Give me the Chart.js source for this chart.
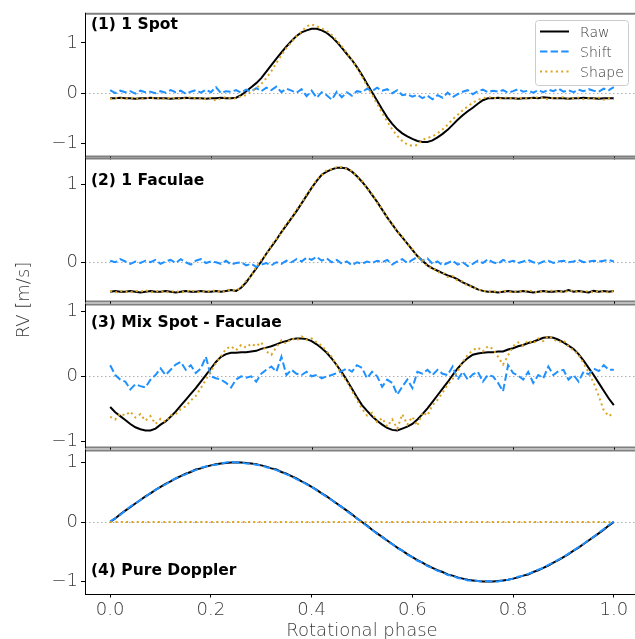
<!DOCTYPE html>
<html>
<head>
<meta charset="utf-8">
<script src="https://cdn.jsdelivr.net/npm/chart.js@4.4.0/dist/chart.umd.min.js"></script>
<style>
  html, body { margin: 0; padding: 0; width: 635px; height: 639px; overflow: hidden; background: #fff; }
  canvas { position: absolute; left: 0; top: 0; }
</style>
</head>
<body>
<canvas id="spotChart" width="640" height="639"></canvas>
<canvas id="faculaeChart" width="640" height="639"></canvas>
<canvas id="mixChart" width="640" height="639"></canvas>
<canvas id="dopplerChart" width="640" height="639"></canvas>
<script>
// rotational phase of every sample
var phase = [
  0.00,0.01,0.02,0.03,0.04,0.05,0.06,0.07,0.08,0.09,
  0.10,0.11,0.12,0.13,0.14,0.15,0.16,0.17,0.18,0.19,
  0.20,0.21,0.22,0.23,0.24,0.25,0.26,0.27,0.28,0.29,
  0.30,0.31,0.32,0.33,0.34,0.35,0.36,0.37,0.38,0.39,
  0.40,0.41,0.42,0.43,0.44,0.45,0.46,0.47,0.48,0.49,
  0.50,0.51,0.52,0.53,0.54,0.55,0.56,0.57,0.58,0.59,
  0.60,0.61,0.62,0.63,0.64,0.65,0.66,0.67,0.68,0.69,
  0.70,0.71,0.72,0.73,0.74,0.75,0.76,0.77,0.78,0.79,
  0.80,0.81,0.82,0.83,0.84,0.85,0.86,0.87,0.88,0.89,
  0.90,0.91,0.92,0.93,0.94,0.95,0.96,0.97,0.98,0.99,1.00
];
var xTicks = [0.0, 0.2, 0.4, 0.6, 0.8, 1.0];
var seriesNames = ['Raw', 'Shift', 'Shape'];

// (1) 1 Spot
var spotRaw = [
  -0.10,-0.10,-0.09,-0.10,-0.10,-0.11,-0.10,-0.10,-0.09,-0.10,
  -0.10,-0.10,-0.11,-0.10,-0.10,-0.09,-0.10,-0.10,-0.10,-0.11,
  -0.10,-0.10,-0.09,-0.10,-0.10,-0.09,-0.04,0.04,0.12,0.20,
  0.30,0.43,0.56,0.69,0.81,0.93,1.04,1.14,1.21,1.25,
  1.28,1.28,1.25,1.20,1.12,1.02,0.90,0.78,0.66,0.52,
  0.36,0.19,0.02,-0.15,-0.32,-0.48,-0.61,-0.72,-0.80,-0.86,
  -0.91,-0.95,-0.97,-0.97,-0.94,-0.88,-0.81,-0.73,-0.63,-0.53,
  -0.44,-0.36,-0.29,-0.21,-0.14,-0.10,-0.10,-0.09,-0.10,-0.10,
  -0.10,-0.11,-0.10,-0.10,-0.09,-0.10,-0.08,-0.09,-0.10,-0.10,
  -0.10,-0.11,-0.10,-0.10,-0.09,-0.10,-0.10,-0.11,-0.10,-0.10,-0.10
];
var spotShift = [
  0.06,0.00,0.05,0.02,0.04,-0.01,0.05,0.02,0.03,0.00,
  0.04,0.01,0.06,0.02,0.05,-0.01,0.03,0.06,0.01,0.07,
  0.02,0.12,0.00,0.04,0.03,0.06,0.01,0.07,0.03,0.10,
  0.04,0.11,0.06,0.13,0.02,0.09,0.05,0.01,0.08,-0.06,
  0.05,-0.09,0.02,-0.04,-0.13,0.03,-0.08,0.02,-0.05,0.04,
  0.02,0.09,0.04,0.11,0.05,0.08,0.00,0.06,-0.04,-0.02,
  -0.07,-0.03,-0.10,-0.05,-0.12,-0.04,-0.09,0.01,-0.08,-0.02,
  0.03,0.06,-0.02,0.04,0.07,0.02,0.05,0.03,0.06,0.01,
  0.04,0.08,0.03,0.05,0.01,0.06,0.02,0.07,0.04,0.09,
  0.03,0.06,0.02,0.07,0.04,0.08,0.05,0.03,0.09,0.06,0.12
];
var spotShape = [
  -0.12,-0.09,-0.10,-0.11,-0.09,-0.10,-0.12,-0.10,-0.09,-0.11,
  -0.10,-0.12,-0.09,-0.10,-0.11,-0.10,-0.08,-0.11,-0.10,-0.12,
  -0.09,-0.15,-0.10,-0.08,-0.11,-0.10,-0.06,-0.04,0.03,0.10,
  0.18,0.30,0.44,0.60,0.76,0.90,1.02,1.13,1.23,1.33,
  1.37,1.33,1.29,1.24,1.16,1.05,0.93,0.80,0.66,0.50,
  0.33,0.15,-0.03,-0.21,-0.39,-0.56,-0.72,-0.85,-0.95,-1.02,
  -1.05,-1.03,-0.93,-0.89,-0.86,-0.80,-0.72,-0.63,-0.52,-0.43,
  -0.34,-0.26,-0.19,-0.13,-0.10,-0.08,-0.09,-0.11,-0.10,-0.08,
  -0.12,-0.10,-0.09,-0.11,-0.10,-0.08,-0.10,-0.12,-0.09,-0.10,
  -0.08,-0.11,-0.10,-0.09,-0.12,-0.10,-0.11,-0.09,-0.13,-0.10,-0.12
];

// (2) 1 Faculae
var faculaeRaw = [
  -0.38,-0.37,-0.38,-0.38,-0.37,-0.38,-0.39,-0.38,-0.37,-0.38,
  -0.38,-0.37,-0.38,-0.39,-0.38,-0.37,-0.38,-0.38,-0.37,-0.38,
  -0.38,-0.37,-0.38,-0.37,-0.36,-0.37,-0.33,-0.26,-0.17,-0.08,
  0.01,0.11,0.20,0.29,0.39,0.48,0.57,0.66,0.76,0.86,
  0.96,1.05,1.13,1.17,1.20,1.22,1.22,1.21,1.17,1.11,
  1.04,0.96,0.87,0.78,0.68,0.58,0.49,0.40,0.32,0.24,
  0.16,0.08,0.02,-0.04,-0.08,-0.11,-0.14,-0.17,-0.19,-0.22,
  -0.26,-0.29,-0.32,-0.35,-0.37,-0.38,-0.38,-0.39,-0.38,-0.37,
  -0.38,-0.38,-0.37,-0.38,-0.39,-0.38,-0.37,-0.38,-0.38,-0.37,
  -0.38,-0.36,-0.38,-0.37,-0.38,-0.39,-0.37,-0.38,-0.37,-0.38,-0.37
];
var faculaeShift = [
  0.02,0.00,0.04,0.01,-0.02,0.01,-0.01,0.02,0.00,0.03,
  -0.02,0.01,0.03,-0.01,0.04,0.00,-0.03,0.02,0.04,-0.01,
  0.01,0.00,-0.02,0.02,-0.03,-0.01,0.00,-0.04,-0.02,-0.06,
  -0.03,-0.01,-0.04,0.00,-0.02,0.02,0.00,0.04,0.01,0.06,
  0.03,0.07,0.02,0.05,0.00,0.03,-0.02,0.01,-0.04,0.00,
  -0.02,0.01,-0.01,0.02,0.00,0.03,-0.03,0.01,0.04,-0.01,
  0.03,0.07,0.02,0.05,-0.02,0.01,-0.04,-0.01,0.02,-0.03,
  0.00,-0.05,-0.02,0.02,-0.01,0.04,0.00,-0.02,0.03,0.00,
  0.02,-0.01,0.01,0.03,0.00,-0.02,0.01,0.02,-0.01,0.01,
  0.02,0.00,0.01,0.03,0.00,0.01,0.02,0.01,0.02,0.03,0.01
];
var faculaeShape = [
  -0.37,-0.39,-0.37,-0.38,-0.39,-0.37,-0.38,-0.36,-0.39,-0.38,
  -0.37,-0.39,-0.38,-0.37,-0.39,-0.38,-0.36,-0.38,-0.39,-0.37,
  -0.38,-0.36,-0.39,-0.37,-0.35,-0.37,-0.32,-0.24,-0.18,-0.06,
  0.03,0.10,0.22,0.30,0.38,0.50,0.57,0.68,0.76,0.88,
  0.95,1.07,1.12,1.19,1.20,1.23,1.23,1.20,1.18,1.10,
  1.05,0.95,0.88,0.77,0.69,0.57,0.50,0.39,0.33,0.23,
  0.17,0.07,0.03,-0.06,-0.07,-0.13,-0.13,-0.19,-0.18,-0.24,
  -0.25,-0.31,-0.31,-0.36,-0.36,-0.39,-0.37,-0.39,-0.37,-0.38,
  -0.39,-0.37,-0.38,-0.36,-0.38,-0.39,-0.37,-0.38,-0.36,-0.39,
  -0.37,-0.38,-0.36,-0.39,-0.37,-0.38,-0.39,-0.37,-0.38,-0.39,-0.37
];

// (3) Mix Spot - Faculae
var mixRaw = [
  -0.47,-0.55,-0.61,-0.67,-0.73,-0.78,-0.81,-0.83,-0.83,-0.80,
  -0.74,-0.69,-0.62,-0.54,-0.45,-0.36,-0.27,-0.18,-0.08,0.02,
  0.12,0.22,0.30,0.34,0.36,0.36,0.37,0.37,0.38,0.39,
  0.42,0.44,0.46,0.49,0.52,0.54,0.57,0.58,0.58,0.57,
  0.54,0.49,0.43,0.36,0.27,0.17,0.06,-0.06,-0.19,-0.32,
  -0.44,-0.53,-0.61,-0.68,-0.74,-0.79,-0.82,-0.83,-0.80,-0.77,
  -0.73,-0.66,-0.58,-0.49,-0.39,-0.29,-0.19,-0.09,0.02,0.12,
  0.21,0.28,0.33,0.35,0.36,0.37,0.37,0.38,0.38,0.41,
  0.43,0.46,0.48,0.51,0.53,0.56,0.59,0.60,0.59,0.56,
  0.52,0.47,0.42,0.34,0.24,0.13,0.02,-0.10,-0.22,-0.34,-0.44
];
var mixShift = [
  0.17,0.02,-0.05,-0.08,-0.20,-0.12,-0.15,-0.17,-0.05,0.02,
  0.12,0.02,0.10,0.18,0.22,0.10,0.17,0.05,0.12,0.30,
  0.00,-0.03,-0.05,-0.10,-0.17,-0.05,0.00,-0.02,0.00,-0.08,
  0.04,0.10,0.15,0.07,0.30,0.02,0.10,0.04,0.02,0.07,
  0.00,0.02,-0.03,0.00,0.02,0.05,0.08,0.12,0.07,0.17,
  0.13,-0.03,0.07,0.00,-0.16,-0.05,-0.10,-0.28,-0.16,-0.05,
  -0.18,0.07,0.04,0.10,0.02,0.10,0.04,0.02,0.15,-0.05,
  0.07,-0.05,0.03,0.07,-0.08,0.02,0.00,-0.10,-0.23,0.17,
  0.05,0.01,-0.05,0.07,-0.10,0.02,-0.03,0.15,0.02,0.08,
  0.10,-0.05,0.02,-0.08,0.07,0.03,0.12,0.08,0.17,0.10,0.10
];
var mixShape = [
  -0.62,-0.66,-0.57,-0.60,-0.54,-0.63,-0.58,-0.68,-0.61,-0.73,
  -0.65,-0.70,-0.60,-0.58,-0.50,-0.46,-0.37,-0.30,-0.18,-0.05,
  0.08,0.20,0.31,0.42,0.46,0.40,0.48,0.44,0.50,0.46,
  0.52,0.38,0.33,0.45,0.55,0.50,0.58,0.55,0.61,0.56,
  0.58,0.52,0.47,0.38,0.30,0.16,0.03,-0.08,-0.22,-0.36,
  -0.50,-0.60,-0.56,-0.70,-0.64,-0.77,-0.66,-0.80,-0.58,-0.74,
  -0.62,-0.76,-0.55,-0.60,-0.44,-0.36,-0.25,-0.13,-0.04,0.08,
  0.22,0.33,0.40,0.44,0.38,0.46,0.42,0.30,0.18,0.32,
  0.46,0.52,0.47,0.55,0.50,0.58,0.54,0.62,0.57,0.52,
  0.55,0.46,0.40,0.33,0.20,0.06,-0.10,-0.30,-0.52,-0.61,-0.56
];

// (4) Pure Doppler
var dopplerRaw = [
  0.00,0.06,0.13,0.19,0.25,0.31,0.37,0.43,0.48,0.54,
  0.59,0.64,0.68,0.73,0.77,0.81,0.84,0.88,0.90,0.93,
  0.95,0.97,0.98,0.99,1.00,1.00,1.00,0.99,0.98,0.97,
  0.95,0.93,0.90,0.88,0.84,0.81,0.77,0.73,0.68,0.64,
  0.59,0.54,0.48,0.43,0.37,0.31,0.25,0.19,0.13,0.06,
  0.00,-0.06,-0.13,-0.19,-0.25,-0.31,-0.37,-0.43,-0.48,-0.54,
  -0.59,-0.64,-0.68,-0.73,-0.77,-0.81,-0.84,-0.88,-0.90,-0.93,
  -0.95,-0.97,-0.98,-0.99,-1.00,-1.00,-1.00,-0.99,-0.98,-0.97,
  -0.95,-0.93,-0.90,-0.88,-0.84,-0.81,-0.77,-0.73,-0.68,-0.64,
  -0.59,-0.54,-0.48,-0.43,-0.37,-0.31,-0.25,-0.19,-0.13,-0.06,0.00
];
var dopplerShift = [
  0.01,0.06,0.12,0.19,0.26,0.31,0.37,0.42,0.49,0.54,
  0.59,0.63,0.69,0.73,0.77,0.80,0.85,0.87,0.91,0.93,
  0.95,0.96,0.98,1.00,1.01,1.00,1.00,0.98,0.98,0.96,
  0.95,0.92,0.90,0.87,0.84,0.80,0.77,0.72,0.68,0.63,
  0.59,0.53,0.48,0.42,0.37,0.30,0.25,0.18,0.12,0.06,
  0.00,-0.07,-0.13,-0.20,-0.25,-0.32,-0.37,-0.44,-0.48,-0.55,
  -0.59,-0.65,-0.68,-0.74,-0.77,-0.82,-0.84,-0.89,-0.90,-0.94,
  -0.95,-0.98,-0.98,-0.99,-1.00,-0.99,-1.00,-1.00,-0.98,-0.97,
  -0.95,-0.92,-0.90,-0.87,-0.84,-0.80,-0.77,-0.72,-0.68,-0.63,
  -0.59,-0.53,-0.48,-0.42,-0.37,-0.30,-0.25,-0.18,-0.12,-0.05,0.01
];
var dopplerShape = [
  0,0,0,0,0,0,0,0,0,0, 0,0,0,0,0,0,0,0,0,0,
  0,0,0,0,0,0,0,0,0,0, 0,0,0,0,0,0,0,0,0,0,
  0,0,0,0,0,0,0,0,0,0, 0,0,0,0,0,0,0,0,0,0,
  0,0,0,0,0,0,0,0,0,0, 0,0,0,0,0,0,0,0,0,0,
  0,0,0,0,0,0,0,0,0,0, 0,0,0,0,0,0,0,0,0,0, 0
];

var FONT = 'DejaVu Sans';
var TEXT_COLOR = '#3a3a3a';

// spines, zero line, panel label, legend and axis titles
var decor = {
    id: 'decor',
    beforeDatasetsDraw: function(chart) {
        var ctx = chart.ctx, a = chart.chartArea;
        var y0 = Math.round(chart.scales.y.getPixelForValue(0)) + 0.5;
        ctx.save();
        ctx.strokeStyle = '#b0b0b0';
        ctx.lineWidth = 1;
        ctx.setLineDash([1.5, 2.5]);
        ctx.beginPath();
        ctx.moveTo(a.left, y0);
        ctx.lineTo(a.right, y0);
        ctx.stroke();
        ctx.restore();
    },
    afterDraw: function(chart, args, opts) {
        var ctx = chart.ctx, a = chart.chartArea;
        ctx.save();
        // top and bottom spines
        ctx.strokeStyle = '#7f7f7f';
        ctx.lineWidth = 2;
        ctx.beginPath();
        ctx.moveTo(a.left, a.top);
        ctx.lineTo(a.right + 2, a.top);
        if (!opts.last) {
            ctx.moveTo(a.left, a.bottom);
            ctx.lineTo(a.right + 2, a.bottom);
        }
        ctx.stroke();
        ctx.strokeStyle = '#000';
        ctx.lineWidth = 1;
        ctx.beginPath();
        var lx = Math.round(a.left) + 0.5;
        ctx.moveTo(lx, a.top - 1);
        ctx.lineTo(lx, a.bottom + (opts.last ? 0.5 : 1));
        if (opts.last) {
            var by = Math.round(a.bottom) + 0.5;
            ctx.moveTo(a.left, by);
            ctx.lineTo(a.right + 2, by);
        } else {
            xTicks.forEach(function(v) {
                var px = Math.round(chart.scales.x.getPixelForValue(v)) + 0.5;
                ctx.moveTo(px, a.bottom);
                ctx.lineTo(px, a.bottom + 3);
            });
        }
        ctx.stroke();

        // panel label
        ctx.fillStyle = '#000';
        ctx.font = 'bold 15.5px "' + FONT + '"';
        ctx.textBaseline = 'alphabetic';
        ctx.textAlign = 'left';
        ctx.fillText(opts.title, 91, opts.titleY);

        if (opts.legend) {
            ctx.fillStyle = 'rgba(255,255,255,0.8)';
            ctx.strokeStyle = '#cccccc';
            ctx.lineWidth = 1;
            ctx.beginPath();
            ctx.roundRect(535.5, 20.5, 93, 65, 3);
            ctx.fill();
            ctx.stroke();
            chart.data.datasets.forEach(function(d, i) {
                var ry = 31.5 + i * 20;
                ctx.strokeStyle = d.borderColor;
                ctx.lineWidth = d.borderWidth;
                ctx.setLineDash(d.borderDash || []);
                ctx.beginPath();
                ctx.moveTo(540, ry);
                ctx.lineTo(569, ry);
                ctx.stroke();
                ctx.setLineDash([]);
                ctx.fillStyle = TEXT_COLOR;
                ctx.font = '300 14px "' + FONT + '"';
                ctx.fillText(d.label, 580, ry + 5);
            });
            // shared y axis title
            ctx.save();
            ctx.translate(29, 300);
            ctx.rotate(-Math.PI / 2);
            ctx.textAlign = 'center';
            ctx.fillStyle = TEXT_COLOR;
            ctx.font = '300 18px "' + FONT + '"';
            ctx.fillText('RV [m/s]', 0, 0);
            ctx.restore();
        }
        if (opts.last) {
            ctx.textAlign = 'center';
            ctx.fillStyle = TEXT_COLOR;
            ctx.font = '300 18px "' + FONT + '"';
            ctx.fillText('Rotational phase', 362, 636);
        }
        ctx.restore();
    }
};

function minusSign(v) {
    return v < 0 ? '\u2212' + Math.abs(v) : String(v);
}

function makePanel(p) {
    function ds(i, vals, style) {
        return Object.assign({
            label: seriesNames[i],
            data: phase.map(function(x, k) { return {x: x, y: vals[k]}; }),
            pointRadius: 0,
            borderWidth: 2,
            tension: 0,
            fill: false,
            borderCapStyle: 'butt'
        }, style);
    }
    var tickFont = {family: FONT, size: 18, weight: 300};
    var xScale = {
        type: 'linear',
        min: -0.05,
        max: 1.05,
        display: p.last,
        afterBuildTicks: function(s) { s.ticks = xTicks.map(function(v) { return {value: v}; }); },
        grid: {drawOnChartArea: false, tickLength: 4, color: '#000'},
        border: {display: false},
        ticks: {font: tickFont, color: TEXT_COLOR, padding: 2, maxRotation: 0,
                callback: function(v) { return v.toFixed(1); }}
    };
    if (p.last) {
        xScale.afterFit = function(s) { s.height = 639 - p.bottom; };
    }
    new Chart(document.getElementById(p.id), {
        type: 'line',
        data: {
            datasets: [
                ds(0, p.raw, {borderColor: '#000000', order: 3}),
                ds(1, p.shift, {borderColor: '#1e90ff', borderDash: [7.4, 3.2], order: 2}),
                ds(2, p.shape, {borderColor: '#daa520', borderDash: [2, 3.3], order: 1})
            ]
        },
        options: {
            responsive: false,
            animation: false,
            devicePixelRatio: 1,
            layout: {padding: {top: p.top, bottom: p.last ? 0 : 639 - p.bottom, left: 0, right: 1}},
            plugins: {
                legend: {display: false},
                tooltip: {enabled: false},
                decor: {title: p.title, titleY: p.titleY, legend: p.legend, last: p.last}
            },
            scales: {
                x: xScale,
                y: {
                    min: p.yMin,
                    max: p.yMax,
                    afterBuildTicks: function(s) { s.ticks = p.yTicks.map(function(v) { return {value: v}; }); },
                    afterFit: function(s) { s.width = 85; },
                    grid: {drawOnChartArea: false, tickLength: 4, color: '#000'},
                    border: {display: false},
                    ticks: {font: tickFont, color: TEXT_COLOR, padding: 3, callback: minusSign}
                }
            }
        },
        plugins: [decor]
    });
}

makePanel({id: 'spotChart', raw: spotRaw, shift: spotShift, shape: spotShape,
    title: '(1) 1 Spot', titleY: 28.7, top: 13.5, bottom: 156.5,
    yMin: -1.26, yMax: 1.58, yTicks: [-1, 0, 1], legend: true, last: false});
makePanel({id: 'faculaeChart', raw: faculaeRaw, shift: faculaeShift, shape: faculaeShape,
    title: '(2) 1 Faculae', titleY: 184.7, top: 158.5, bottom: 301.5,
    yMin: -0.507, yMax: 1.34, yTicks: [0, 1], legend: false, last: false});
makePanel({id: 'mixChart', raw: mixRaw, shift: mixShift, shape: mixShape,
    title: '(3) Mix Spot - Faculae', titleY: 327.3, top: 304.5, bottom: 447.5,
    yMin: -1.09, yMax: 1.10, yTicks: [-1, 0, 1], legend: false, last: false});
makePanel({id: 'dopplerChart', raw: dopplerRaw, shift: dopplerShift, shape: dopplerShape,
    title: '(4) Pure Doppler', titleY: 574.7, top: 450.5, bottom: 593.5,
    yMin: -1.2, yMax: 1.2, yTicks: [-1, 0, 1], legend: false, last: true});
</script>
</body>
</html>
